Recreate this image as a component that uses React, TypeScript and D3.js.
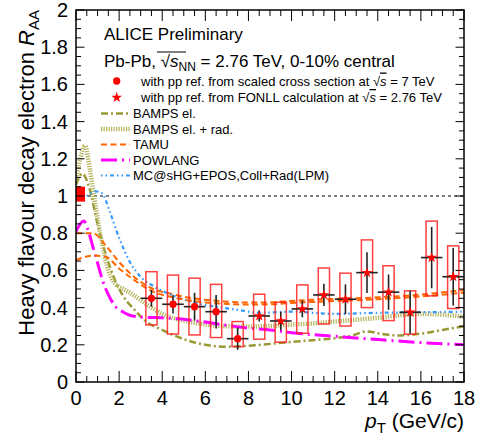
import React from 'react'
import * as d3 from 'd3'

// measured points (pT bin centres), R_AA, stat. error and syst. box limits
const ptBins = [3.5, 4.5, 5.5, 6.5, 7.5, 8.5, 9.5, 10.5, 11.5, 12.5, 13.5, 14.5, 15.5, 16.5, 17.5]
const raa = [0.45, 0.418, 0.405, 0.378, 0.233, 0.355, 0.328, 0.393, 0.468, 0.445, 0.588, 0.483, 0.375, 0.669, 0.566]
const statErr = [0.045, 0.05, 0.075, 0.09, 0.06, 0.03, 0.05, 0.045, 0.06, 0.08, 0.11, 0.095, 0.115, 0.165, 0.155]
const sysLow = [0.307, 0.258, 0.253, 0.239, 0.19, 0.23, 0.214, 0.262, 0.312, 0.301, 0.4, 0.33, 0.257, 0.463, 0.395]
const sysHigh = [0.593, 0.575, 0.558, 0.525, 0.325, 0.472, 0.429, 0.522, 0.613, 0.585, 0.764, 0.625, 0.49, 0.865, 0.732]
// first five from scaled 7 TeV reference (circles), rest from FONLL (stars)
const markerType = ['circle', 'circle', 'circle', 'circle', 'circle', 'star', 'star', 'star', 'star', 'star', 'star', 'star', 'star', 'star', 'star']

// model curves
const bampsElPt = [0, 0.3, 0.6, 1.0, 1.4, 1.8, 2.2, 2.7, 3.2, 4, 5, 6, 7, 8, 9, 10, 11, 12, 12.8, 13.5, 14.2, 15, 16, 17, 18]
const bampsEl = [1.06, 1.12, 1.05, 0.85, 0.68, 0.55, 0.46, 0.39, 0.33, 0.28, 0.23, 0.2, 0.19, 0.195, 0.205, 0.215, 0.225, 0.235, 0.25, 0.272, 0.258, 0.25, 0.26, 0.28, 0.3]
const bampsRadPt = [0, 0.2, 0.42, 0.65, 0.9, 1.2, 1.5, 1.8, 2.2, 2.5, 3, 3.5, 4, 5, 6, 7, 8, 9, 10, 11, 12, 13, 14, 15, 16, 17, 18]
const bampsRad = [1.08, 1.2, 1.27, 1.14, 0.95, 0.75, 0.6, 0.53, 0.5, 0.48, 0.44, 0.4, 0.365, 0.33, 0.31, 0.3, 0.298, 0.302, 0.308, 0.315, 0.325, 0.335, 0.345, 0.358, 0.366, 0.362, 0.352]
const tamuPt = [0, 0.8, 1.4, 2.0, 2.7, 3.4, 4.5, 5, 6, 7, 8, 9, 10, 12, 14, 16, 18]
const tamuHigh = [0.8, 0.8, 0.73, 0.645, 0.565, 0.51, 0.472, 0.458, 0.442, 0.432, 0.427, 0.428, 0.436, 0.447, 0.455, 0.47, 0.495]
const tamuLow = [0.655, 0.68, 0.672, 0.61, 0.548, 0.495, 0.455, 0.443, 0.428, 0.42, 0.416, 0.418, 0.425, 0.435, 0.445, 0.46, 0.48]
const powlangPt = [0, 0.37, 0.55, 0.8, 1.0, 1.25, 1.5, 1.8, 2.2, 2.6, 3.2, 4, 5, 6, 7, 8, 9, 10, 12, 14, 16, 18]
const powlang = [0.81, 0.865, 0.82, 0.72, 0.64, 0.54, 0.47, 0.41, 0.375, 0.355, 0.348, 0.345, 0.337, 0.322, 0.305, 0.29, 0.28, 0.265, 0.246, 0.228, 0.212, 0.2]
const mcshqPt = [0.5, 0.9, 1.2, 1.6, 2.0, 2.5, 3.0, 3.6, 4.5, 5.5, 6.5, 7.5, 8.5, 10, 12, 14, 16, 18]
const mcshq = [1.0, 1.025, 1.015, 0.905, 0.775, 0.645, 0.565, 0.515, 0.465, 0.425, 0.405, 0.388, 0.372, 0.378, 0.366, 0.372, 0.375, 0.378]

// normalisation uncertainty around unity
const normBox = [0.97, 1.05]

const xTicks = d3.range(0, 19, 2)
const xMinor = d3.range(0, 18.01, 0.5)
const yTicks = [0, 0.2, 0.4, 0.6, 0.8, 1, 1.2, 1.4, 1.6, 1.8, 2]
const yMinor = d3.range(0, 2.001, 0.05)

const font = '"Liberation Sans", Arial, Helvetica, sans-serif'

const models = [
  { name: 'BAMPS el.', pt: bampsElPt, vals: bampsEl, color: '#999933', width: 2.5, dash: '7,3,2,3' },
  { name: 'BAMPS el. + rad.', pt: bampsRadPt, vals: bampsRad, color: '#b3b35c', width: 4.5, dash: '1.2,1.3' },
  { name: 'TAMU', pt: tamuPt, vals: tamuHigh, color: '#ff6600', width: 2, dash: '6,3.5' },
  { name: 'POWLANG', pt: powlangPt, vals: powlang, color: '#ff00ff', width: 3, dash: '16,5,2,5' },
  { name: 'MC@sHG+EPOS,Coll+Rad(LPM)', pt: mcshqPt, vals: mcshq, color: '#3399ff', width: 2.2, dash: '1.5,3,1.5,3,4,3' },
]

function App() {
  const width = 484
  const height = 442
  const left = 76
  const right = 464
  const top = 10
  const bottom = 382

  const x = d3.scaleLinear().domain([0, 18]).range([left, right])
  const y = d3.scaleLinear().domain([0, 2]).range([bottom, top])

  const line = (pt: number[], vals: number[]) =>
    d3.line<number>()
      .x((_, i) => x(pt[i]))
      .y(d => y(d))
      .curve(d3.curveMonotoneX)(vals) || ''

  const star = d3.symbol().type(d3.symbolStar).size(36)
  const circle = d3.symbol().type(d3.symbolCircle).size(42)

  const legendY = [113.5, 129, 144.5, 160, 175.5]
  const over = { textDecoration: 'overline' }

  return (
    <svg width={width} height={height} style={{ position: 'absolute', left: 0, top: 0, background: '#fff' }} fontFamily={font}>
      <defs>
        <clipPath id="frame">
          <rect x={left} y={top} width={right - left} height={bottom - top} />
        </clipPath>
      </defs>

      {/* unity line */}
      <path d={`M ${x(0)} ${y(1)} H ${x(18)}`} stroke="#000" strokeWidth={1} strokeDasharray="3,3" />

      {/* models */}
      <g clipPath="url(#frame)" fill="none">
        {models.map(m => (
          <path key={m.name} d={line(m.pt, m.vals)} stroke={m.color} strokeWidth={m.width} strokeDasharray={m.dash} />
        ))}
        <path d={line(tamuPt, tamuLow)} stroke="#ff6600" strokeWidth={2} strokeDasharray="6,3.5" />
      </g>

      {/* normalisation box */}
      <rect x={x(0)} y={y(normBox[1])} width={x(0.42) - x(0)} height={y(normBox[0]) - y(normBox[1])} fill="#ff0000" />

      {/* systematic boxes */}
      {ptBins.map((pt, i) => (
        <rect key={`s${pt}`} x={x(pt - 0.26)} y={y(sysHigh[i])} width={x(pt + 0.26) - x(pt - 0.26)}
          height={y(sysLow[i]) - y(sysHigh[i])} fill="none" stroke="#ff2020" strokeWidth={1.5} strokeOpacity={0.85} />
      ))}

      {/* stat errors */}
      {ptBins.map((pt, i) => (
        <g key={`e${pt}`} stroke="#222" strokeWidth={1.6}>
          <path d={`M ${x(pt - 0.5)} ${y(raa[i])} H ${x(pt + 0.5)}`} />
          <path d={`M ${x(pt)} ${y(raa[i] + statErr[i])} V ${y(raa[i] - statErr[i])}`} />
        </g>
      ))}

      {/* markers */}
      {ptBins.map((pt, i) => (
        <path key={`m${pt}`} transform={`translate(${x(pt)} ${y(raa[i])})`}
          d={(markerType[i] === 'star' ? star() : circle()) || ''} fill="#ff0000" />
      ))}

      {/* frame and ticks */}
      <rect x={left} y={top} width={right - left} height={bottom - top} fill="none" stroke="#000" strokeWidth={1.5} />
      <g stroke="#000" strokeWidth={1}>
        {xMinor.map(t => {
          const len = Math.abs(t % 2) < 1e-6 ? 11 : 6
          return <g key={`x${t}`}>
            <path d={`M ${x(t)} ${bottom} V ${bottom - len}`} />
            <path d={`M ${x(t)} ${top} V ${top + len}`} />
          </g>
        })}
        {yMinor.map(t => {
          const major = Math.abs(Math.round(t / 0.2) * 0.2 - t) < 1e-6
          const len = major ? 8.5 : 5
          return <g key={`y${t}`}>
            <path d={`M ${left} ${y(t)} H ${left + len}`} />
            <path d={`M ${right} ${y(t)} H ${right - len}`} />
          </g>
        })}
      </g>

      {/* tick labels */}
      <g fontSize={20} fill="#000">
        {xTicks.map(t => (
          <text key={`xl${t}`} x={x(t)} y={405} textAnchor="middle">{t}</text>
        ))}
        {yTicks.map(t => (
          <text key={`yl${t}`} x={68} y={y(t)} textAnchor="end" dominantBaseline="central">{t}</text>
        ))}
      </g>

      {/* axis titles */}
      <text x={right} y={428} textAnchor="end" fontSize={21}>
        <tspan fontStyle="italic">p</tspan>
        <tspan fontSize={15} dy={5}>T</tspan>
        <tspan dy={-5}> (GeV/c)</tspan>
      </text>
      <text transform="translate(34 10) rotate(-90)" textAnchor="end" fontSize={22}>
        Heavy flavour decay electron <tspan fontStyle="italic">R</tspan>
        <tspan fontSize={15} dy={5}>AA</tspan>
      </text>

      {/* legend */}
      <text x={104} y={40} fontSize={17}>ALICE Preliminary</text>
      <text x={104} y={67} fontSize={17}>
        Pb-Pb, √<tspan fontStyle="italic">s</tspan><tspan fontSize={12} dy={4}>NN</tspan>
        <tspan dy={-4}> = 2.76 TeV, 0-10% central</tspan>
      </text>
      <path d="M 157 52 H 186" stroke="#000" strokeWidth={1} />

      <path transform="translate(116.7 81)" d={circle() || ''} fill="#ff0000" />
      <text x={141} y={85.5} fontSize={13}>
        with pp ref. from scaled cross section at √<tspan fontStyle="italic" style={over}>s</tspan> = 7 TeV
      </text>
      <path transform="translate(116.7 97.5)" d={star() || ''} fill="#ff0000" />
      <text x={141} y={102} fontSize={13}>
        with pp ref. from FONLL calculation at √<tspan fontStyle="italic" style={over}>s</tspan> = 2.76 TeV
      </text>

      {models.map((m, i) => (
        <g key={`lg${m.name}`}>
          <path d={`M 101 ${legendY[i]} H 130`} stroke={m.color} strokeWidth={m.width} strokeDasharray={m.dash} fill="none" />
          <text x={133} y={legendY[i]} dominantBaseline="central" fontSize={13}>{m.name}</text>
        </g>
      ))}
    </svg>
  )
}

export default App
